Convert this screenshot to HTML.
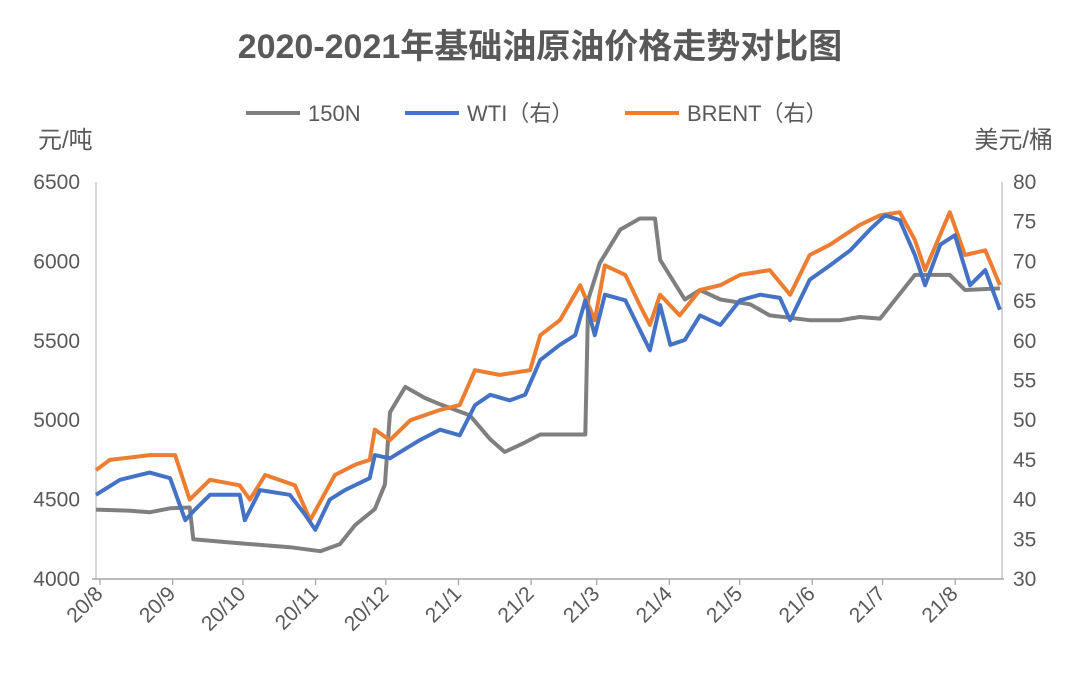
<!DOCTYPE html>
<html><head><meta charset="utf-8">
<style>
html,body{margin:0;padding:0;background:#fff;}
svg{display:block;font-family:"Liberation Sans","Noto Sans CJK SC",sans-serif;}
</style></head>
<body>
<svg id="chart" width="1080" height="674" viewBox="0 0 1080 674" xmlns="http://www.w3.org/2000/svg">
<rect width="1080" height="674" fill="#fff"/>
<text x="540" y="58" text-anchor="middle" font-size="34" font-weight="bold" fill="#595959">2020-2021年基础油原油价格走势对比图</text>
<g>
 <g><line x1="246" y1="113" x2="300" y2="113" stroke="#7f7f7f" stroke-width="4"/><text x="308" y="121" font-size="22" fill="#595959">150N</text></g>
 <g><line x1="405" y1="113" x2="459" y2="113" stroke="#4472c4" stroke-width="4"/><text x="467" y="121" font-size="22" fill="#595959">WTI（右）</text></g>
 <g><line x1="625" y1="113" x2="679" y2="113" stroke="#ed7d31" stroke-width="4"/><text x="687" y="121" font-size="22" fill="#595959">BRENT（右）</text></g>
</g>
<text x="38" y="148" font-size="24" fill="#595959">元/吨</text>
<text x="1053" y="148" text-anchor="end" font-size="24" fill="#595959">美元/桶</text>
<g id="axes"></g>
<g id="series"></g>
</svg>
<script>
const xLabels=["20/8","20/9","20/10","20/11","20/12","21/1","21/2","21/3","21/4","21/5","21/6","21/7","21/8"];
const tickDays=[0,31,61,92,122,153,184,212,243,273,304,334,365];
const leftTicks=[4000,4500,5000,5500,6000,6500];
const rightTicks=[30,35,40,45,50,55,60,65,70,75,80];
const n150Months=[0,.47,.74,1.02,1.29,1.34,1.85,2.67,3.09,3.36,3.57,3.84,3.98,4.05,4.26,4.53,4.74,5.15,5.43,5.63,5.91,6.12,6.74,6.78,6.94,7.22,7.49,7.70,7.77,8.11,8.32,8.60,9.01,9.28,9.56,9.83,10.25,10.52,10.80,11.01,11.28,11.76,11.97,12.45];
const n150Values=[4437,4430,4420,4445,4450,4250,4230,4200,4175,4220,4340,4440,4595,5050,5210,5140,5100,5030,4880,4800,4860,4910,4910,5760,5990,6200,6270,6270,6010,5760,5820,5760,5730,5660,5645,5630,5630,5650,5640,5760,5915,5915,5820,5830];
const wtiMonths=[0,.33,.74,1.02,1.23,1.36,1.57,1.98,2.05,2.26,2.67,2.88,3.02,3.22,3.43,3.77,3.84,4.05,4.46,4.74,5.01,5.22,5.43,5.70,5.91,6.12,6.39,6.60,6.74,6.87,7.01,7.29,7.49,7.63,7.77,7.91,8.11,8.32,8.60,8.87,9.15,9.42,9.56,9.83,10.11,10.39,10.66,10.87,11.07,11.28,11.42,11.63,11.83,12.04,12.25,12.45];
const wtiValues=[40.6,42.5,43.4,42.7,37.4,38.7,40.6,40.6,37.4,41.2,40.6,38.1,36.2,40.0,41.2,42.7,45.6,45.2,47.5,48.8,48.1,51.9,53.2,52.5,53.2,57.6,59.5,60.7,65.1,60.7,65.8,65.1,61.4,58.8,64.5,59.5,60.1,63.2,62.0,65.1,65.8,65.4,62.6,67.7,69.5,71.4,74.0,75.8,75.2,70.8,67.0,72.1,73.3,67.0,68.9,63.9];
const brentMonths=[0,.19,.74,1.09,1.29,1.57,1.98,2.12,2.33,2.74,2.95,3.29,3.57,3.77,3.84,4.05,4.33,4.74,5.01,5.22,5.56,5.98,6.12,6.39,6.67,6.87,7.01,7.29,7.49,7.63,7.77,8.04,8.32,8.60,8.87,9.28,9.56,9.83,10.11,10.52,10.80,11.07,11.28,11.42,11.76,11.97,12.25,12.45];
const brentValues=[43.7,45.0,45.6,45.6,40.0,42.5,41.8,40.0,43.1,41.8,37.4,43.1,44.4,45.0,48.8,47.5,50.0,51.3,51.9,56.3,55.7,56.3,60.7,62.6,67.0,62.6,69.5,68.3,64.5,62.0,65.8,63.2,66.4,67.0,68.3,68.9,65.8,70.8,72.1,74.6,75.8,76.2,72.7,68.9,76.2,70.8,71.4,67.0];

const X0=96,X1=1002,YT=182,YB=579,MONTHW=72.6;
const xs=m=>X0+m*MONTHW;
const xd=d=>100+d*2.343;
const yl=v=>YB-(v-4000)/2500*(YB-YT);
const yr=v=>YB-(v-30)/50*(YB-YT);
const NS="http://www.w3.org/2000/svg";
function mk(tag,attrs,parent,text){const e=document.createElementNS(NS,tag);for(const k in attrs)e.setAttribute(k,attrs[k]);if(text!==undefined)e.textContent=text;parent.appendChild(e);return e;}
const axes=document.getElementById('axes'),series=document.getElementById('series');
let e;
e=mk('line',{x1:X0,y1:YT,x2:X0,y2:YB,stroke:'#bfbfbf','stroke-width':1.3},axes);


e=mk('line',{x1:X1,y1:YT,x2:X1,y2:YB,stroke:'#bfbfbf','stroke-width':1.3},axes);


e=mk('line',{x1:92,y1:YB,x2:X1+2,y2:YB,stroke:'#a6a6a6','stroke-width':1.5},axes);


leftTicks.forEach(v=>{
 e=mk('text',{x:80,y:yl(v)+7,'text-anchor':'end','font-size':21,fill:'#595959'},axes,String(v));
 
 
});
rightTicks.forEach(v=>{
 e=mk('text',{x:1013,y:yr(v)+7,'font-size':21,fill:'#595959'},axes,String(v));
 
 
});
xLabels.forEach((l,i)=>{
 const x=xd(tickDays[i]);
 e=mk('line',{x1:x,y1:YB,x2:x,y2:YB+6,stroke:'#a6a6a6','stroke-width':1.3},axes);
 
 
 e=mk('text',{x:x+4,y:YB+16,'text-anchor':'end','font-size':21,fill:'#595959',transform:`rotate(-45 ${x+4} ${YB+16})`},axes,l);
 
 
});
function line(ms,vs,yf,color,name){
 const pts=ms.map((m,i)=>xs(m).toFixed(1)+','+yf(vs[i]).toFixed(1)).join(' ');
 const p=mk('polyline',{points:pts,fill:'none',stroke:color,'stroke-width':4,'stroke-linejoin':'round'},series);
 
 
}
line(n150Months,n150Values,yl,'#7f7f7f','line-150n');
line(brentMonths,brentValues,yr,'#ed7d31','line-brent');
line(wtiMonths,wtiValues,yr,'#4472c4','line-wti');
</script>
</body></html>
